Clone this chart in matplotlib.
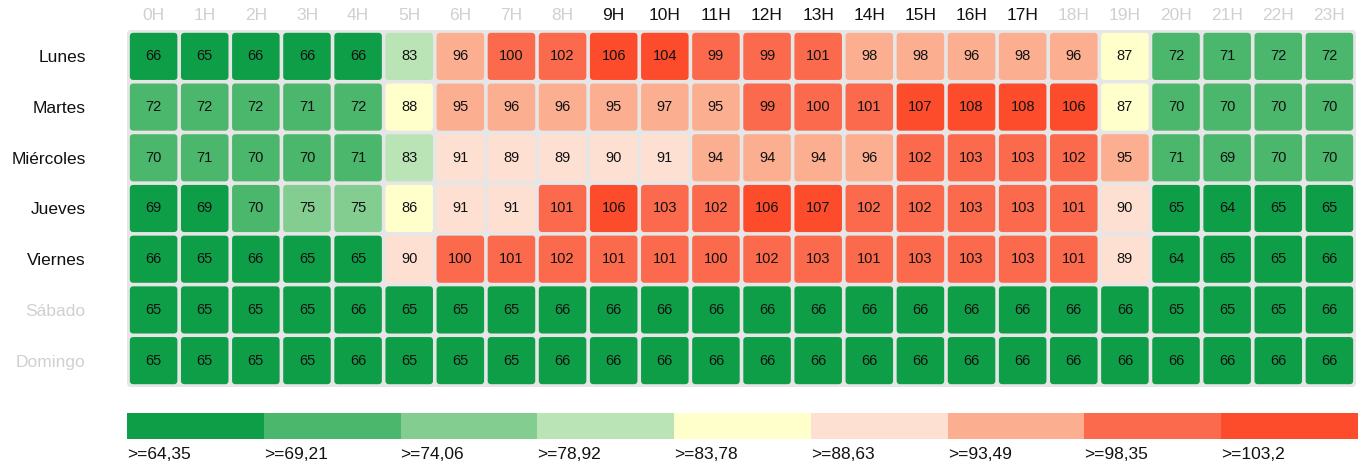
import numpy as np
import matplotlib
matplotlib.use('Agg')
import matplotlib.pyplot as plt
from matplotlib.patches import FancyBboxPatch

plt.rcParams['font.family'] = ['Liberation Sans', 'DejaVu Sans']

dias = ['Lunes', 'Martes', 'Miércoles', 'Jueves', 'Viernes', 'Sábado', 'Domingo']
horas = ['%dH' % h for h in range(24)]

# valores (el 69 de Miércoles 21H cae en la clase >=69,21, por eso 69.3)
valores = [
    [66, 65, 66, 66, 66, 83, 96, 100, 102, 106, 104, 99, 99, 101, 98, 98, 96, 98, 96, 87, 72, 71, 72, 72],
    [72, 72, 72, 71, 72, 88, 95, 96, 96, 95, 97, 95, 99, 100, 101, 107, 108, 108, 106, 87, 70, 70, 70, 70],
    [70, 71, 70, 70, 71, 83, 91, 89, 89, 90, 91, 94, 94, 94, 96, 102, 103, 103, 102, 95, 71, 69.3, 70, 70],
    [69, 69, 70, 75, 75, 86, 91, 91, 101, 106, 103, 102, 106, 107, 102, 102, 103, 103, 101, 90, 65, 64, 65, 65],
    [66, 65, 66, 65, 65, 90, 100, 101, 102, 101, 101, 100, 102, 103, 101, 103, 103, 103, 101, 89, 64, 65, 65, 66],
    [65, 65, 65, 65, 66, 65, 65, 65, 66, 66, 66, 66, 66, 66, 66, 66, 66, 66, 66, 66, 65, 65, 65, 66],
    [65, 65, 65, 65, 66, 65, 65, 65, 66, 66, 66, 66, 66, 66, 66, 66, 66, 66, 66, 66, 66, 66, 66, 66],
]

umbrales = [64.35, 69.21, 74.06, 78.92, 83.78, 88.63, 93.49, 98.35, 103.2]
colores = ['#0f9e48', '#4ab76c', '#83cd91', '#bae4b5', '#ffffcc',
           '#fee0d3', '#fcae91', '#fb6a4c', '#fd4c2c']

horas_activas = range(9, 18)
dias_activos = range(0, 5)

gris = '#d0d0d0'
borde = '#e6e6e6'

fig = plt.figure(figsize=(13.62, 4.68), dpi=100)
W, H = 1362.0, 468.0

ax = fig.add_axes([126 / W, (H - 388) / H, 1231 / W, 359 / H])
ax.set_xlim(-0.04, 24.04)
ax.set_ylim(7.04, -0.04)

# fondo gris del grid
ax.add_patch(FancyBboxPatch((-0.02, -0.02), 24.04, 7.04,
                            boxstyle='round,pad=0,rounding_size=0.08',
                            fc=borde, ec='none', zorder=0))

datos = np.array(valores, dtype=float)
for r in range(datos.shape[0]):
    for c in range(datos.shape[1]):
        v = datos[r, c]
        k = np.searchsorted(umbrales, v, side='right') - 1
        k = max(0, min(k, len(colores) - 1))
        ax.add_patch(FancyBboxPatch((c + 0.035, r + 0.035), 0.93, 0.93,
                                    boxstyle='round,pad=0,rounding_size=0.07',
                                    fc=colores[k], ec='none', zorder=1))
        ax.text(c + 0.5, r + 0.5, '%d' % round(v), ha='center', va='center',
                fontsize=10.5, color='#111111', zorder=2)

ax.xaxis.tick_top()
ax.set_xticks(np.arange(24) + 0.5)
ax.set_xticklabels(horas, fontsize=12.5)
ax.set_yticks(np.arange(7) + 0.5)
ax.set_yticklabels(dias, fontsize=12.5)
ax.tick_params(axis='x', length=0, pad=4.5)
ax.tick_params(axis='y', length=0, pad=29)
for i, t in enumerate(ax.get_xticklabels()):
    t.set_color('#111111' if i in horas_activas else gris)
for i, t in enumerate(ax.get_yticklabels()):
    t.set_color('#111111' if i in dias_activos else gris)
for s in ax.spines.values():
    s.set_visible(False)

# leyenda de colores
lg = fig.add_axes([127 / W, (H - 439) / H, 1231 / W, 26 / H])
lg.bar(np.arange(len(colores)), 1, width=1, align='edge', color=colores)
lg.set_xlim(0, len(colores))
lg.set_ylim(0, 1)
lg.axis('off')
for i, u in enumerate(umbrales):
    lg.text(i, -0.3, '>=' + ('%.2f' % u).rstrip('0').replace('.', ','),
            ha='left', va='top', fontsize=12.5, color='#111111')

fig.savefig('out.png', dpi=100)
